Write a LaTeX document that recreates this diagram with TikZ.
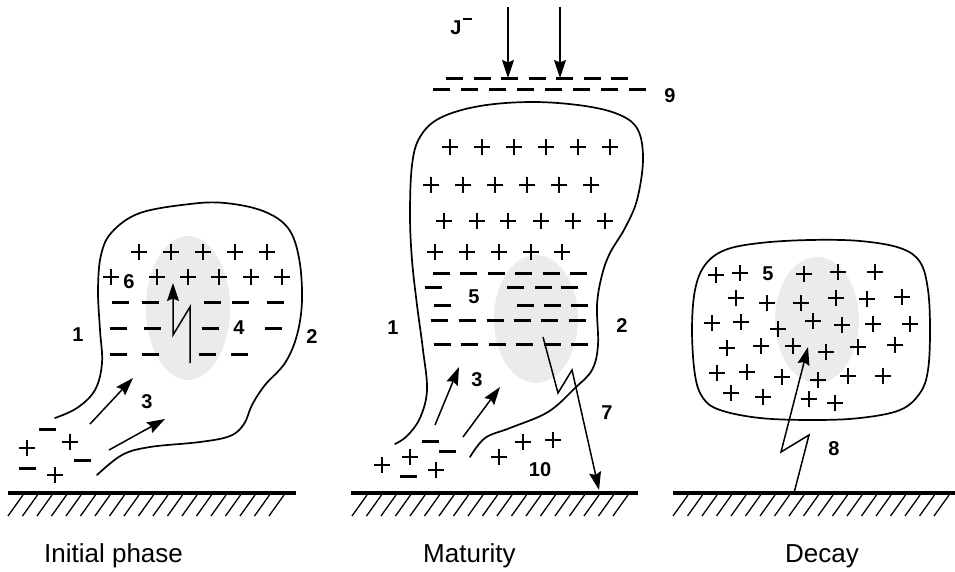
\documentclass[tikz,border=0pt]{standalone}
\usepackage{fontspec}
\setmainfont{Liberation Sans}
\usetikzlibrary{arrows.meta}
\begin{document}
\begin{tikzpicture}[x=1pt,y=-1pt,
  cloudline/.style={line width=1.7pt, line join=round, line cap=round},
  core/.style={fill=black!8, draw=none},
  num/.style={font=\bfseries\fontsize{20}{20}\selectfont, inner sep=0pt},
  caption/.style={font=\fontsize{26}{26}\selectfont, inner sep=0pt, anchor=base west},
  flash/.style={line width=1.5pt, line join=miter,
    -{Stealth[length=18pt,width=12pt,inset=2.5pt]}},
  flow/.style={line width=1.5pt,
    -{Stealth[length=18pt,width=12pt,inset=2.5pt]}},
  groundline/.style={line width=3.5pt},
  hatch/.style={line width=1.3pt},
  layer/.style={line width=3pt},
  pls/.pic={\draw[line width=1.9pt] (-7.8,0) -- (7.8,0) (0,-7.8) -- (0,7.8);},
  mns/.pic={\draw[line width=3pt] (-8.5,0) -- (8.5,0);}
]
\useasboundingbox (0,0) rectangle (955,572);

% ---------- ground strips ----------
\foreach \xa/\xb/\hs/\hn in {8/296/8/18, 351/638/352/18, 673/955/673/18}{
  \draw[groundline] (\xa,493) -- (\xb,493);
  \foreach \k in {0,...,\hn}
    \draw[hatch] ({\hs+14.5*\k},516) -- ({\hs+14.5*\k+15},495);
}

% ================= Initial phase =================
\fill[core] (188,308) ellipse [x radius=42, y radius=72];
\draw[cloudline] plot[smooth, tension=0.6] coordinates {
  (55,418) (77,408) (95,390) (102,363) (100,330) (98,290) (101,255)
  (112,232) (140,213) (190,204) (225,203) (263,211) (288,228) (299,258)
  (302,300) (297,335) (285,363) (265,385) (252,405) (244,424) (230,436)
  (200,442) (150,447) (122,455) (97,475)};
\foreach \x in {139,171,203,235,267} \pic at (\x,252) {pls};
\foreach \x in {111,157,188,219,251,282} \pic at (\x,277) {pls};
\foreach \x in {120,150,212,240,275} \pic at (\x,302) {mns};
\foreach \x in {118,152,210,273} \pic at (\x,328) {mns};
\foreach \x in {118,150,207,239} \pic at (\x,354) {mns};
\foreach \x/\y in {70/442, 27/448, 55/475} \pic at (\x,\y) {pls};
\foreach \x/\y in {47/429, 82/460, 27/468} \pic at (\x,\y) {mns};

\node[num] (a1) at (78,335) {1};
\node[num] (a2) at (312,337) {2};
\node[num] (a3) at (147,402) {3};
\node[num] (a4) at (239,328) {4};
\node[num] (a6) at (129,282) {6};

\coordinate (f1a) at (190,363);
\coordinate (f1b) at (190,307);
\coordinate (f1c) at (173,335);
\coordinate (f1d) at (173,283);
\draw[flash] (f1a) -- (f1b) -- (f1c) -- (f1d);

\coordinate (u1s) at (90,424);  \coordinate (u1e) at (133,378);
\coordinate (u2s) at (109,450); \coordinate (u2e) at (165,419);
\draw[flow] (u1s) -- (u1e);
\draw[flow] (u2s) -- (u2e);

\node[caption] (c1) at (44,562) {Initial phase};

% ================= Maturity =================
\fill[core] (536,319) ellipse [x radius=42, y radius=64];
\draw[cloudline] plot[smooth, tension=0.6] coordinates {
  (395,444) (407,436) (420,418) (427,390) (423,350) (417,305) (412,260)
  (410,215) (412,165) (420,137) (440,118) (480,106) (533,102) (585,106)
  (620,115) (638,130) (643,160) (637,200) (625,228) (610,253) (602,275)
  (597,305) (598,345) (592,370) (575,388) (548,412) (510,428) (485,438)
  (470,457)};
\foreach \x in {450,482,514,546,578,610} \pic at (\x,147) {pls};
\foreach \x in {431,463,495,527,559,591} \pic at (\x,185) {pls};
\foreach \x in {444,477,508,541,573,605} \pic at (\x,221) {pls};
\foreach \x in {435,467,499,531,562} \pic at (\x,252) {pls};
\foreach \x in {441,468,496,523,551,578} \pic at (\x,273) {mns};
\foreach \x in {433,515,543,569} \pic at (\x,287) {mns};
\foreach \x in {442,525,552,579} \pic at (\x,305) {mns};
\foreach \x in {439,467,495,522,549,577} \pic at (\x,320) {mns};
\foreach \x in {442,469,497,524,552,579} \pic at (\x,344) {mns};
\foreach \x/\y in {410/457, 382/465, 436/470, 499/457, 523/442, 553/440}
  \pic at (\x,\y) {pls};
\foreach \x/\y in {430/441, 447/451, 408/476} \pic at (\x,\y) {mns};

% upper negative layer
\draw[layer, dash pattern=on 17pt off 10.5pt] (446,79) -- (628,79);
\draw[layer, dash pattern=on 17pt off 11pt] (433,90) -- (646,90);

\coordinate (j1s) at (508,7);  \coordinate (j1e) at (508,78);
\coordinate (j2s) at (560,7);  \coordinate (j2e) at (560,78);
\draw[flow] (j1s) -- (j1e);
\draw[flow] (j2s) -- (j2e);
\node[num] (jm) at (456,28) {J};
\draw[line width=2pt] (463,19.5) -- (472,19.5);

\node[num] (b1) at (393,328) {1};
\node[num] (b2) at (622,326) {2};
\node[num] (b3) at (477,380) {3};
\node[num] (b5) at (474,297) {5};
\node[num] (b7) at (607,413) {7};
\node[num] (b9) at (670,96) {9};
\node[num] (b10) at (540,470) {10};

\coordinate (f7a) at (543,337);
\coordinate (f7b) at (558,393);
\coordinate (f7c) at (572,370);
\coordinate (f7d) at (599,490);
\draw[flash] (f7a) -- (f7b) -- (f7c) -- (f7d);

\coordinate (v1s) at (435,425); \coordinate (v1e) at (459,367);
\coordinate (v2s) at (463,437); \coordinate (v2e) at (500,387);
\draw[flow] (v1s) -- (v1e);
\draw[flow] (v2s) -- (v2e);

\node[caption] (c2) at (423,562) {Maturity};

% ================= Decay =================
\fill[core] (817,320) ellipse [x radius=42, y radius=63];
\draw[cloudline] plot[smooth cycle, tension=0.6] coordinates {
  (692,330) (695,290) (705,265) (725,250) (760,243) (810,240) (860,241)
  (900,248) (920,262) (928,290) (930,330) (928,370) (920,393) (900,410)
  (860,418) (813,420) (760,418) (720,410) (703,398) (695,375)};
\foreach \x/\y in {
  716/275, 740/273, 804/274, 838/272, 875/272,
  736/298, 767/303, 801/303, 836/298, 867/299, 902/297,
  712/323, 741/322, 778/329, 813/321, 842/325, 873/324, 910/324,
  727/348, 761/346, 793/346, 826/352, 858/347, 895/345,
  717/373, 747/372, 782/377, 818/380, 848/376, 883/376,
  731/393, 763/397, 809/399, 835/403}
  \pic at (\x,\y) {pls};
\node[num] (d5) at (768,274) {5};
\node[num] (d8) at (834,449) {8};

\coordinate (f8a) at (794,493);
\coordinate (f8b) at (809,435);
\coordinate (f8c) at (781,452);
\coordinate (f8d) at (808,347);
\draw[flash] (f8a) -- (f8b) -- (f8c) -- (f8d);

\node[caption] (c3) at (785,562) {Decay};
\end{tikzpicture}
\end{document}
